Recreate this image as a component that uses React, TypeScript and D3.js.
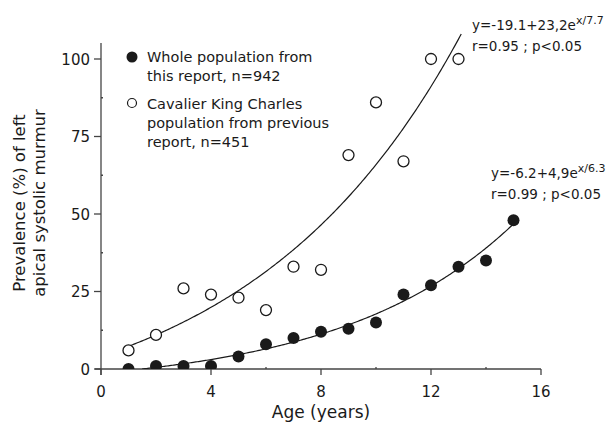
import { useEffect, useRef } from 'react'
import * as d3 from 'd3'

// age in years
const ages = [1, 2, 3, 4, 5, 6, 7, 8, 9, 10, 11, 12, 13, 14, 15]
const wholePop = [0, 1, 1, 1, 4, 8, 10, 12, 13, 15, 24, 27, 33, 35, 48]
const cavalierAges = [1, 2, 3, 4, 5, 6, 7, 8, 9, 10, 11, 12, 13]
const cavalierPop = [6, 11, 26, 24, 23, 19, 33, 32, 69, 86, 67, 100, 100]

// fitted curves y = a + b*e^(x/c), as printed on the chart
const fitWhole = [-6.2, 4.9, 6.3]
const fitCavalier = [-19.1, 23.2, 7.7]

const xTicks = [0, 4, 8, 12, 16]
const yTicks = [0, 25, 50, 75, 100]

const legendWhole = ['Whole population from', 'this report, n=942']
const legendCav = ['Cavalier King Charles', 'population from previous', 'report, n=451']

const labelFont = '"Comic Sans MS", "DejaVu Sans", sans-serif'
const eqFont = '"DejaVu Sans", Verdana, sans-serif'

export default function App() {
  const ref = useRef<SVGSVGElement | null>(null)

  useEffect(() => {
    const svg = d3.select(ref.current)
    svg.selectAll('*').remove()

    const x = d3.scaleLinear().domain([0, 16]).range([101, 541])
    const y = d3.scaleLinear().domain([0, 100]).range([369, 59])
    const ink = '#1a1a1a'
    const axisCol = '#444'

    svg.append('defs').append('clipPath').attr('id', 'plot')
      .append('rect').attr('x', 101).attr('y', 0).attr('width', 500).attr('height', 369)

    // y axis
    svg.append('line').attr('x1', 101).attr('x2', 101).attr('y1', 43).attr('y2', 375)
      .attr('stroke', axisCol).attr('stroke-width', 1.3)
    yTicks.forEach(t => {
      svg.append('line').attr('x1', 94).attr('x2', 101).attr('y1', y(t)).attr('y2', y(t))
        .attr('stroke', axisCol).attr('stroke-width', 1.3)
      svg.append('text').attr('x', 90).attr('y', y(t) + 5.5).attr('text-anchor', 'end')
        .attr('font-family', labelFont).attr('font-size', 15).attr('fill', ink).text(t)
    })
    d3.range(12.5, 100, 25).forEach(t => {
      svg.append('line').attr('x1', 101).attr('x2', 103).attr('y1', y(t)).attr('y2', y(t))
        .attr('stroke', axisCol).attr('stroke-width', 1.3)
    })

    // x axis
    svg.append('line').attr('x1', 95).attr('x2', 541).attr('y1', 369).attr('y2', 369)
      .attr('stroke', axisCol).attr('stroke-width', 1.3)
    xTicks.forEach(t => {
      svg.append('line').attr('x1', x(t)).attr('x2', x(t)).attr('y1', 369).attr('y2', 375)
        .attr('stroke', axisCol).attr('stroke-width', 1.3)
      svg.append('text').attr('x', x(t)).attr('y', 397).attr('text-anchor', 'middle')
        .attr('font-family', labelFont).attr('font-size', 15).attr('fill', ink).text(t)
    })
    d3.range(2, 16, 4).forEach(t => {
      svg.append('line').attr('x1', x(t)).attr('x2', x(t)).attr('y1', 367).attr('y2', 369)
        .attr('stroke', axisCol).attr('stroke-width', 1.3)
    })

    // axis titles
    svg.append('text').attr('x', x(8)).attr('y', 418).attr('text-anchor', 'middle')
      .attr('font-family', labelFont).attr('font-size', 17).attr('fill', ink).text('Age (years)')
    const yt = svg.append('text').attr('transform', 'translate(25,203) rotate(-90)')
      .attr('text-anchor', 'middle').attr('font-family', labelFont).attr('font-size', 16.5).attr('fill', ink)
    yt.append('tspan').attr('x', 0).attr('y', 0).text('Prevalence (%) of left')
    yt.append('tspan').attr('x', 0).attr('y', 20).text('apical systolic murmur')

    // fitted curves
    const drawFit = (coef: number[], x0: number, x1: number) => {
      const xs = d3.range(x0, x1 + 0.001, 0.05)
      const l = d3.line<number>().x(v => x(v)).y(v => y(coef[0] + coef[1] * Math.exp(v / coef[2])))
      svg.append('path').attr('d', l(xs)).attr('fill', 'none').attr('stroke', ink)
        .attr('stroke-width', 1.2).attr('clip-path', 'url(#plot)')
    }
    drawFit(fitCavalier, 1, 13.1)
    drawFit(fitWhole, 1.5, 15)

    // points
    const g = svg.append('g').attr('clip-path', 'url(#plot)')
    g.selectAll('circle.cav').data(cavalierAges).enter().append('circle')
      .attr('cx', (d) => x(d)).attr('cy', (_d, i) => y(cavalierPop[i])).attr('r', 5.5)
      .attr('fill', 'white').attr('stroke', ink).attr('stroke-width', 1.3)
    g.selectAll('circle.whole').data(ages).enter().append('circle')
      .attr('cx', (d) => x(d)).attr('cy', (_d, i) => y(wholePop[i])).attr('r', 6)
      .attr('fill', ink)

    // legend
    svg.append('circle').attr('cx', 132).attr('cy', 57).attr('r', 5.5).attr('fill', ink)
    legendWhole.forEach((s, i) => {
      svg.append('text').attr('x', 147).attr('y', 62 + i * 19).attr('font-family', labelFont)
        .attr('font-size', 14.5).attr('fill', ink).text(s)
    })
    svg.append('circle').attr('cx', 132).attr('cy', 103).attr('r', 4.5)
      .attr('fill', 'white').attr('stroke', ink).attr('stroke-width', 1.2)
    legendCav.forEach((s, i) => {
      svg.append('text').attr('x', 147).attr('y', 109 + i * 19).attr('font-family', labelFont)
        .attr('font-size', 14.5).attr('fill', ink).text(s)
    })

    // equations
    const eq = (x0: number, y0: number, a: string, sup: string, r: string) => {
      const t = svg.append('text').attr('x', x0).attr('y', y0).attr('font-family', eqFont)
        .attr('font-size', 13.5).attr('fill', ink)
      t.append('tspan').text(a)
      t.append('tspan').attr('dy', -6).attr('font-size', 11).text(sup)
      svg.append('text').attr('x', x0).attr('y', y0 + 21).attr('font-family', eqFont)
        .attr('font-size', 13.5).attr('fill', ink).text(r)
    }
    eq(472, 30, 'y=-19.1+23,2e', 'x/7.7', 'r=0.95 ; p<0.05')
    eq(491, 178, 'y=-6.2+4,9e', 'x/6.3', 'r=0.99 ; p<0.05')
  }, [])

  return (
    <svg ref={ref} width={614} height={425} style={{ display: 'block', position: 'absolute', left: 0, top: 0, background: 'white' }} />
  )
}
